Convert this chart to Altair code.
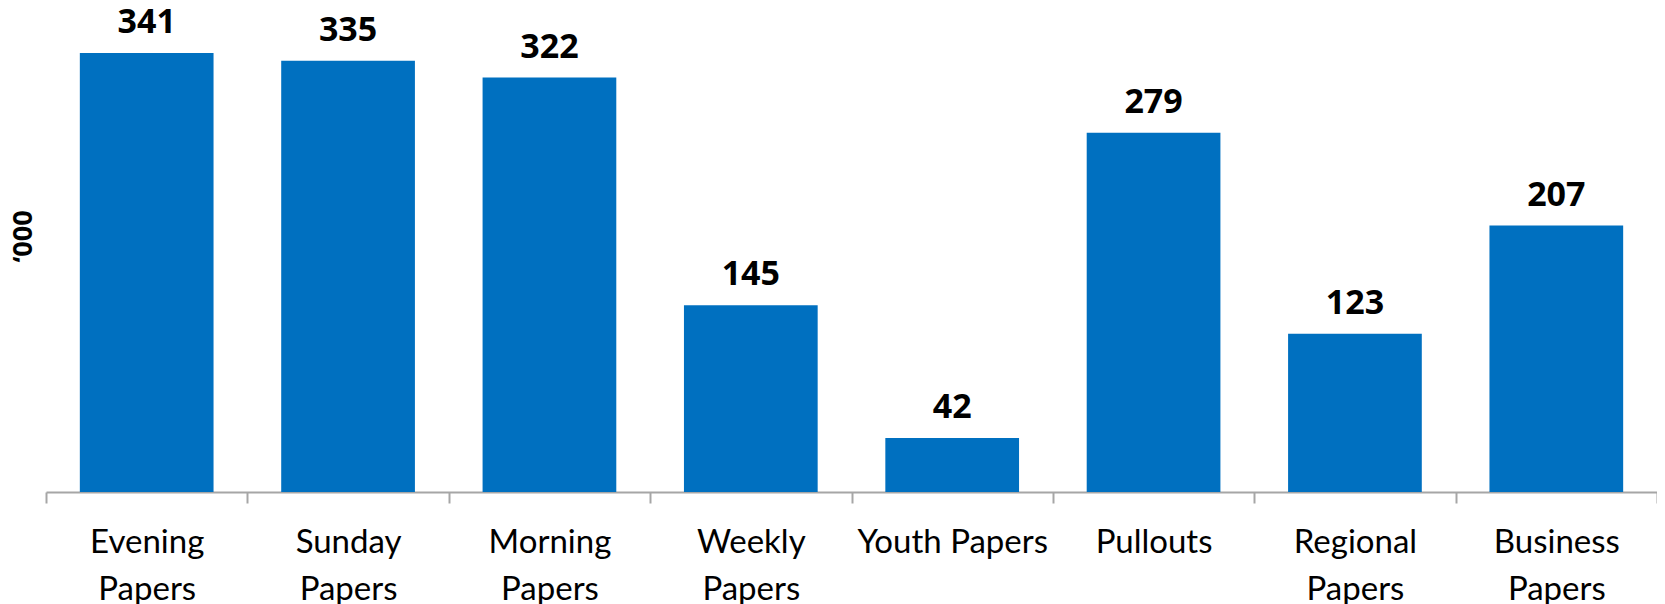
import altair as alt
import pandas as pd

categories = ["Evening\nPapers", "Sunday\nPapers", "Morning\nPapers", "Weekly\nPapers",
              "Youth Papers", "Pullouts", "Regional\nPapers", "Business\nPapers"]
values = [341, 335, 322, 145, 42, 279, 123, 207]

df = pd.DataFrame({"cat": categories, "val": values})

x_enc = alt.X("cat:N", sort=categories,
              scale=alt.Scale(paddingInner=0, paddingOuter=0),
              axis=alt.Axis(title=None, labelAngle=0, labelExpr="split(datum.label, '\\n')",
                            labelFont="Lato", labelFontSize=33, labelColor="#000000",
                            labelLineHeight=47, labelPadding=23, labelBaseline="top",
                            domainColor="#a6a6a6", domainWidth=2, tickColor="#a6a6a6",
                            tickWidth=2, tickSize=11, tickBand="extent", labelLimit=0))
y_enc = alt.Y("val:Q", scale=alt.Scale(domain=[0, 376], nice=False),
              axis=alt.Axis(title="‘000", titleFont="Open Sans", titleFontSize=27,
                            titleFontWeight="bold", titleColor="#000000", labels=False,
                            ticks=False, domain=False, grid=False, titleAngle=-90,
                            titlePadding=9, titleY=228))

bars = alt.Chart(df).mark_bar(color="#0070C0", width=alt.RelativeBandSize(0.664)).encode(
    x=x_enc, y=y_enc)
text = alt.Chart(df).mark_text(font="Open Sans", fontSize=34, fontWeight="bold",
                               color="#000000", baseline="alphabetic", dy=-20).encode(
    x=alt.X("cat:N", sort=categories), y=alt.Y("val:Q"), text="val:Q")

chart = (bars + text).properties(
    width=1611, height=484,
    autosize=alt.AutoSizeParams(type="none"),
    padding={"left": 38, "top": 0, "right": 0, "bottom": 112},
).configure_view(stroke=None)

chart.save("out.html", embed_options={"renderer": "svg", "actions": False})
